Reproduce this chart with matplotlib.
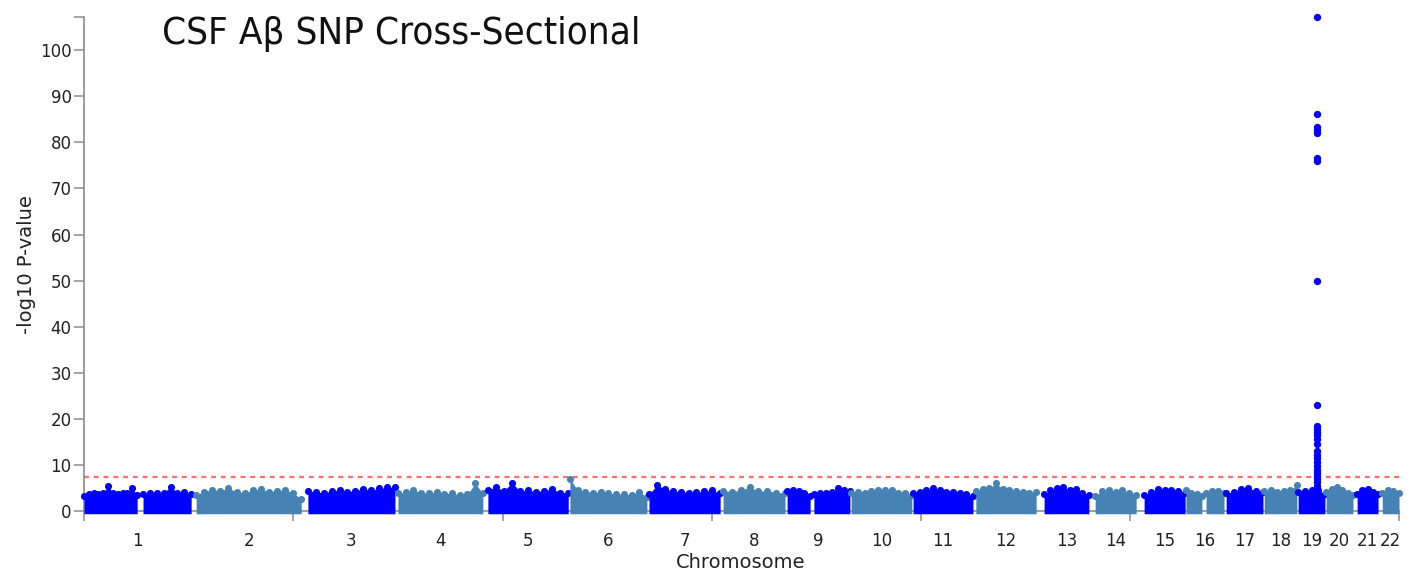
import matplotlib
matplotlib.use("Agg")
import matplotlib.pyplot as plt
from matplotlib import font_manager as fm

# chromosome segments (x in cumulative Mb; ticks every 500)
seg_chrom = [1, 1, 2, 3, 4, 5, 6, 7, 8, 9, 9, 10, 11, 12, 13, 14, 15, 16, 16,
             17, 18, 19, 20, 21, 22]
seg_start = [0, 141, 268, 535, 750, 965, 1161, 1350, 1527, 1680, 1744, 1833,
             1981, 2131, 2294, 2416, 2533, 2633, 2681, 2729, 2820, 2901, 2968,
             3042, 3102]
seg_end = [127, 256, 519, 743, 953, 1157, 1345, 1520, 1675, 1735, 1830, 1978,
           2124, 2275, 2401, 2514, 2631, 2671, 2724, 2817, 2898, 2965, 3032,
           3092, 3142]
# upper edge of the dense SNP cloud (-log10 p), evenly spaced along each segment
seg_tops = [
    [3.3, 3.7, 3.8, 3.6, 3.9, 5.4, 3.9, 3.7, 3.8, 4.0, 4.9, 3.4],
    [3.6, 3.8, 3.9, 4.0, 5.2, 4.0, 4.1, 3.6],
    [3.5, 4.2, 4.6, 4.4, 5.0, 4.1, 3.9, 4.5, 4.8, 4.1, 4.4, 4.6, 3.9, 2.6],
    [4.4, 4.1, 4.0, 4.3, 4.6, 4.2, 4.4, 4.8, 4.5, 4.9, 5.1, 5.2],
    [3.8, 4.1, 4.5, 4.0, 3.8, 4.1, 3.7, 3.9, 3.4, 3.6, 6.0, 3.8],
    [4.6, 5.2, 4.4, 6.1, 4.3, 4.5, 4.2, 4.4, 4.8, 4.0, 3.9],
    [7.0, 4.5, 4.2, 4.0, 4.1, 3.9, 3.6, 3.7, 3.5, 4.2, 3.0],
    [3.6, 5.6, 4.8, 4.3, 4.2, 4.0, 4.1, 4.3, 4.5, 3.8],
    [4.4, 4.2, 4.5, 5.2, 4.3, 4.4, 4.0, 3.9],
    [4.4, 4.6, 4.3, 3.8, 3.2],
    [3.6, 4.0, 3.9, 4.2, 4.9, 4.6, 4.3],
    [3.8, 4.2, 4.0, 4.4, 4.6, 4.5, 4.6, 4.0, 3.8, 3.4],
    [3.8, 4.2, 4.6, 4.9, 4.5, 4.2, 4.1, 4.0, 3.6, 3.2],
    [4.4, 4.7, 4.9, 6.0, 4.8, 4.6, 4.3, 4.2, 4.0, 4.1],
    [3.6, 4.5, 4.9, 5.2, 4.5, 4.8, 4.0, 3.5],
    [3.3, 4.3, 4.6, 4.2, 4.5, 4.0, 3.4],
    [3.4, 4.2, 4.8, 4.5, 4.6, 4.3, 3.8],
    [4.5, 4.0, 3.6, 3.2],
    [3.8, 4.3, 4.4, 3.9],
    [3.8, 4.2, 4.8, 5.0, 4.4, 4.1],
    [4.3, 4.5, 4.2, 4.4, 4.6, 5.6],
    [4.1, 4.3, 4.6, 4.5, 3.7],
    [4.1, 4.8, 5.2, 4.5, 4.0, 3.4],
    [3.6, 4.6, 4.8, 4.2, 3.6],
    [3.8, 4.6, 4.4, 3.8],
]
cloud_floor = -0.6

# APOE hit on chromosome 19
peak_x = 2946
peak_vals = [107.1, 86.1, 83.4, 82.7, 82.1, 76.6, 76.0, 50.0, 23.1, 18.4,
             17.8, 17.2, 16.5, 15.6, 14.6, 13.0, 12.2, 11.4, 10.6, 9.8, 9.0,
             8.3, 7.6, 6.9, 6.2, 5.5]

sig_line = 7.3
x_max = 3142
y_max = 107.2
chrom_names = [str(i) for i in range(1, 23)]
colors = {0: "#4682b4", 1: "#0000ff"}

fig = plt.figure(figsize=(14.13, 5.75), dpi=100)
ax = fig.add_axes([84 / 1413, 1 - 511 / 575, (1399 - 84) / 1413, (511 - 17) / 575])

for c, s, e, tops in zip(seg_chrom, seg_start, seg_end, seg_tops):
    n = len(tops)
    xs = [s + (e - s) * i / (n - 1) for i in range(n)]
    col = colors[c % 2]
    ax.fill_between(xs, cloud_floor, tops, color=col, lw=0, clip_on=False, zorder=3)
    ax.scatter(xs, tops, s=26, color=col, lw=0, clip_on=False, zorder=3)

ax.scatter([peak_x] * len(peak_vals), peak_vals, s=28, color="#0000ff", lw=0,
           clip_on=False, zorder=4)

ax.axhline(sig_line, color="#ff3030", alpha=0.7, lw=1.6, ls=(0, (2.2, 2.2)), zorder=2)

ax.set_xlim(0, x_max)
ax.set_ylim(0, y_max)

# chromosome labels at segment centres, tick marks every 500 Mb
centres = []
for i in range(1, 23):
    ss = [s for c, s in zip(seg_chrom, seg_start) if c == i]
    ee = [e for c, e in zip(seg_chrom, seg_end) if c == i]
    centres.append((min(ss) + max(ee)) / 2)
ax.set_xticks(centres, labels=chrom_names)
ax.set_xticks(list(range(0, 3001, 500)) + [x_max], minor=True)
ax.tick_params(axis="x", which="major", length=0, pad=15, labelsize=12, labelcolor="#222222")
ax.tick_params(axis="x", which="minor", length=7, width=1.1, color="#8c8c8c")

ax.set_yticks(range(0, 101, 10))
ax.set_yticks([y_max], minor=True)
ax.tick_params(axis="y", which="both", length=7, width=1.1, color="#8c8c8c",
               labelsize=12, labelcolor="#222222", pad=2)

for side in ["top", "right"]:
    ax.spines[side].set_visible(False)
for side in ["left", "bottom"]:
    ax.spines[side].set_color("#8c8c8c")
    ax.spines[side].set_linewidth(1.2)

fig.text(741 / 1413, 1 - 563 / 575, "Chromosome", ha="center", va="center",
         fontsize=14, color="#222222")
fig.text(27 / 1413, 1 - 265 / 575, "-log10 P-value", ha="center", va="center",
         rotation=90, fontsize=14, color="#222222")

# title in a narrow face if one is around
names = {f.name for f in fm.fontManager.ttflist}
title_kw = dict(family="DejaVu Sans", weight="light")
if "Liberation Sans Narrow" in names:
    title_kw = dict(family="Liberation Sans Narrow")
elif any(f.name == "DejaVu Sans" and f.stretch == "condensed" for f in fm.fontManager.ttflist):
    title_kw = dict(family="DejaVu Sans", stretch="condensed")
elif "Roboto" in names:
    title_kw = dict(family="Roboto", weight="light")

title = fig.text(162 / 1413, 1 - 44 / 575, "CSF Aβ SNP Cross-Sectional",
                 ha="left", va="baseline", fontsize=30, color="#111111", **title_kw)
fig.canvas.draw()
w = title.get_window_extent(fig.canvas.get_renderer()).width
title.set_fontsize(30 * 478 / w)

fig.savefig("out.png", dpi=100)
